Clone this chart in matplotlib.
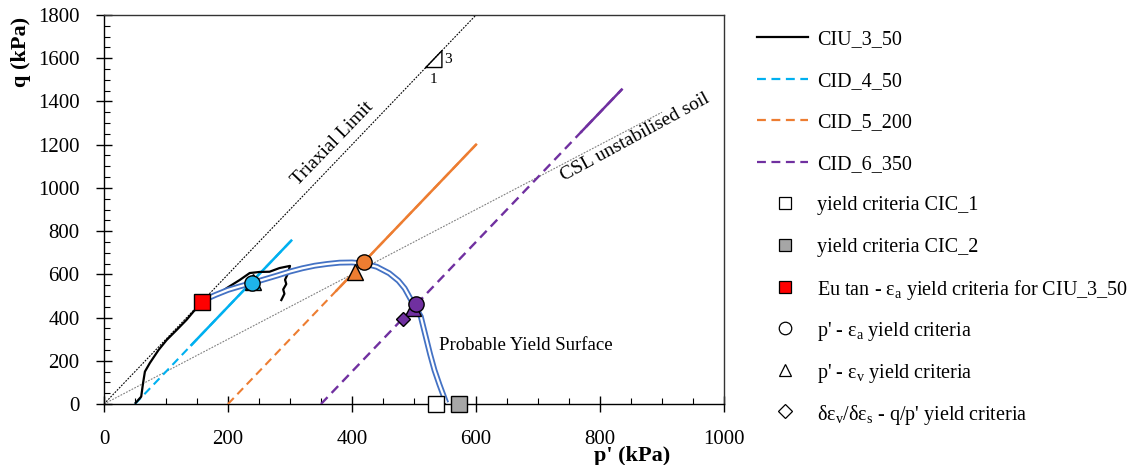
import matplotlib
matplotlib.use("Agg")
import matplotlib.pyplot as plt
from matplotlib.lines import Line2D
from matplotlib.ticker import MultipleLocator

plt.rcParams["font.family"] = ["Liberation Serif", "DejaVu Serif"]
plt.rcParams["mathtext.fontset"] = "custom"
plt.rcParams["mathtext.rm"] = "Liberation Serif"
plt.rcParams["mathtext.it"] = "Liberation Serif:italic"

# ---- stress paths (p', q in kPa) ----
ciu_3_50_p = [51, 60, 63, 66, 74, 88, 101, 117, 133, 145, 158, 170, 181, 200, 219, 235,
              251, 267, 283, 300, 296, 292, 294, 289, 291, 286]
ciu_3_50_q = [5, 34, 97, 150, 190, 250, 296, 342, 389, 430, 467, 488, 504, 540, 574, 606,
              611, 612, 629, 639, 600, 575, 555, 530, 510, 481]

cid_4_50_p = [50, 302]
cid_4_50_q = [0, 756]
cid_4_50_meas_p = [141, 302]
cid_4_50_meas_q = [273, 756]

cid_5_200_p = [200, 600]
cid_5_200_q = [0, 1200]
cid_5_200_meas_p = [375, 600]
cid_5_200_meas_q = [525, 1200]

cid_6_350_p = [350, 835]
cid_6_350_q = [0, 1455]
cid_6_350_meas_p = [770, 835]
cid_6_350_meas_q = [1260, 1455]

# ---- reference lines ----
triaxial_p = [0, 600]
triaxial_q = [0, 1800]
csl_p = [0, 900]
csl_q = [0, 1350]

# ---- probable yield surface ----
yield_p = [155, 180, 200, 220, 240, 260, 280, 300, 320, 340, 360, 380, 400, 420, 440,
           460, 475, 485, 495, 503, 511, 519, 526, 533, 541, 549, 552]
yield_q = [473, 505, 528, 545, 561, 578, 595, 613, 628, 640, 648, 654, 655, 650, 635,
           605, 570, 535, 483, 445, 404, 311, 230, 157, 90, 28, 5]

# ---- yield points ----
cic1_p, cic1_q = [535], [0]
cic2_p, cic2_q = [572], [0]
eutan_p, eutan_q = [158], [470]
pea_p = [238, 419, 503]          # p' - eps_a criterion
pea_q = [560, 658, 462]
pea_c = ["#1EB4EA", "#ED7D31", "#7030A0"]
pev_p = [241, 405, 498]          # p' - eps_v criterion
pev_q = [563, 613, 446]
pev_c = ["#1EB4EA", "#ED7D31", "#7030A0"]
dil_p = [482]                    # d(eps_v)/d(eps_s) - q/p' criterion
dil_q = [394]
dil_c = ["#7030A0"]

legend_labels = [
    "CIU_3_50", "CID_4_50", "CID_5_200", "CID_6_350",
    "yield criteria CIC_1", "yield criteria CIC_2",
    "Eu tan - ε$_\\mathrm{a}$ yield criteria for CIU_3_50",
    "p' - ε$_\\mathrm{a}$ yield criteria",
    "p' - ε$_\\mathrm{v}$ yield criteria",
    "δε$_\\mathrm{v}$/δε$_\\mathrm{s}$ - q/p' yield criteria",
]

CYAN = "#00B0F0"
ORANGE = "#ED7D31"
PURPLE = "#7030A0"
BLUE = "#4472C4"
W, H = 1144, 465

fig = plt.figure(figsize=(W / 100, H / 100), dpi=100)
ax = fig.add_axes([104 / W, 1 - 404 / H, 620 / W, 389 / H])

# reference lines
ax.plot(triaxial_p, triaxial_q, color="black", lw=0.8, ls=(0, (1.6, 1.2)), zorder=2)
ax.plot(csl_p, csl_q, color="#808080", lw=0.8, ls=(0, (1.6, 1.2)), zorder=2)

# 3:1 slope marker on the triaxial limit
tri_p0, tri_q0, tri_run = 519, 1557, 26
ax.plot([tri_p0, tri_p0 + tri_run, tri_p0 + tri_run, tri_p0],
        [tri_q0, tri_q0, tri_q0 + 3 * tri_run, tri_q0], color="black", lw=1.0, zorder=3)
ax.text(tri_p0 + tri_run + 4, tri_q0 + 1.5 * tri_run, "3", fontsize=11, ha="left", va="center")
ax.text(tri_p0 + tri_run / 2, tri_q0 - 25, "1", fontsize=11, ha="center", va="top")

# drained paths
dash = (0, (4, 2.5))
ax.plot(cid_4_50_p, cid_4_50_q, color=CYAN, lw=1.5, ls=dash, zorder=3)
ax.plot(cid_4_50_meas_p, cid_4_50_meas_q, color=CYAN, lw=1.8, zorder=3)
ax.plot(cid_5_200_p, cid_5_200_q, color=ORANGE, lw=1.5, ls=dash, zorder=3)
ax.plot(cid_5_200_meas_p, cid_5_200_meas_q, color=ORANGE, lw=1.8, zorder=3)
ax.plot(cid_6_350_p, cid_6_350_q, color=PURPLE, lw=1.7, ls=dash, zorder=3)
ax.plot(cid_6_350_meas_p, cid_6_350_meas_q, color=PURPLE, lw=1.8, zorder=3)

# undrained path
ax.plot(ciu_3_50_p, ciu_3_50_q, color="black", lw=1.6, zorder=4)

# yield surface drawn as a double line
ax.plot(yield_p, yield_q, color=BLUE, lw=4.2, solid_capstyle="butt", zorder=5)
ax.plot(yield_p, yield_q, color="white", lw=1.6, solid_capstyle="butt", zorder=5)

# yield points
ax.plot(cic1_p, cic1_q, ls="none", marker="s", ms=11, mfc="white", mec="black", mew=1.0,
        zorder=7, clip_on=False)
ax.plot(cic2_p, cic2_q, ls="none", marker="s", ms=11, mfc="#A6A6A6", mec="black", mew=1.0,
        zorder=7, clip_on=False)
for p, q, c in zip(pev_p, pev_q, pev_c):
    ax.plot([p], [q], ls="none", marker="^", ms=11, mfc=c, mec="black", mew=1.0, zorder=6)
for p, q, c in zip(pea_p, pea_q, pea_c):
    ax.plot([p], [q], ls="none", marker="o", ms=11, mfc=c, mec="black", mew=1.0, zorder=7)
for p, q, c in zip(dil_p, dil_q, dil_c):
    ax.plot([p], [q], ls="none", marker="D", ms=7.5, mfc=c, mec="black", mew=1.0, zorder=7)
ax.plot(eutan_p, eutan_q, ls="none", marker="s", ms=12, mfc="#FF0000", mec="black", mew=1.0,
        zorder=8)

# annotations
ax.text(369, 1205, "Triaxial Limit", fontsize=14, rotation=46, ha="center", va="center")
ax.text(857, 1232, "CSL unstabilised soil", fontsize=14, rotation=28.5, ha="center", va="center")
ax.text(541, 272, "Probable Yield Surface", fontsize=13.5, ha="left", va="center")

# axes styling
ax.set_xlim(0, 1000)
ax.set_ylim(0, 1800)
ax.xaxis.set_major_locator(MultipleLocator(200))
ax.xaxis.set_minor_locator(MultipleLocator(50))
ax.yaxis.set_major_locator(MultipleLocator(200))
ax.yaxis.set_minor_locator(MultipleLocator(50))
ax.tick_params(which="major", direction="inout", length=11, width=1.0, labelsize=15,
               top=False, right=False)
ax.tick_params(which="minor", direction="in", length=4.5, width=0.8, top=False, right=False)
ax.tick_params(axis="x", which="major", pad=13)
ax.tick_params(axis="y", which="major", pad=12)
for s in ax.spines.values():
    s.set_linewidth(1.0)
    s.set_color("#333333")
ax.spines["left"].set_color("black")
ax.spines["bottom"].set_color("black")

ax.set_xlabel("p' (kPa)", fontsize=16, fontweight="bold")
ax.xaxis.set_label_coords(0.852, -0.108)
ax.set_ylabel("q (kPa)", fontsize=16, fontweight="bold")
ax.yaxis.set_label_coords(-0.118, 0.905)

# legend, laid out row by row in pixel positions
legend_handles = [
    dict(color="black", lw=1.6),
    dict(color=CYAN, lw=1.6, ls=dash),
    dict(color=ORANGE, lw=1.6, ls=dash),
    dict(color=PURPLE, lw=1.6, ls=dash),
    dict(marker="s", ms=9, mfc="white"),
    dict(marker="s", ms=9, mfc="#A6A6A6"),
    dict(marker="s", ms=9, mfc="#FF0000"),
    dict(marker="o", ms=9, mfc="white"),
    dict(marker="^", ms=9, mfc="white"),
    dict(marker="D", ms=7, mfc="white"),
]
row0, row_step = 37, 41.6
for i, (style, label) in enumerate(zip(legend_handles, legend_labels)):
    y = 1 - (row0 + i * row_step) / H
    if "marker" in style:
        fig.add_artist(Line2D([785 / W], [y], ls="none", mec="black", mew=0.9,
                              transform=fig.transFigure, **style))
    else:
        fig.add_artist(Line2D([757 / W, 808 / W], [y, y], transform=fig.transFigure, **style))
    fig.text(817 / W, y, label, fontsize=14.5, ha="left", va="center_baseline")

fig.savefig("out.png", dpi=100)
